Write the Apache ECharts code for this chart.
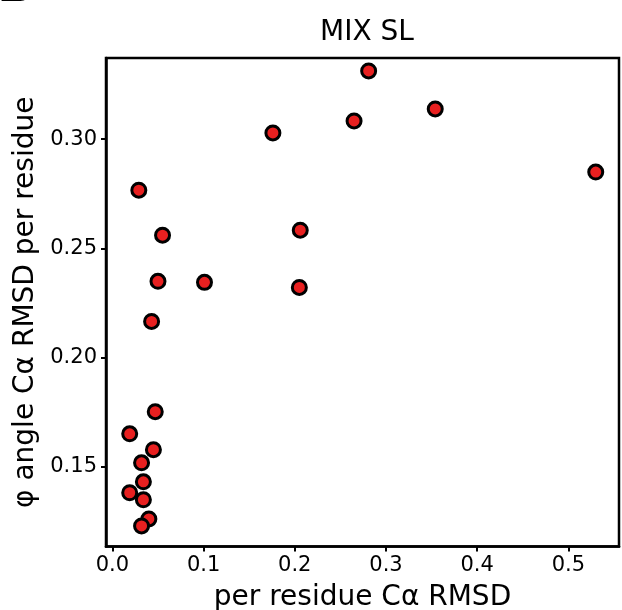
<!DOCTYPE html>
<html>
<head>
<meta charset="utf-8">
<script src="https://cdn.jsdelivr.net/npm/echarts@6/dist/echarts.min.js"></script>
<style>html,body{margin:0;padding:0;background:#fff}#c{width:622px;height:610px}</style>
</head>
<body>
<div id="c"></div>
<script>
const title = "MIX SL";
const panelLetter = "B";
const xLabel = "per residue Cα RMSD";
const yLabel = "φ angle Cα RMSD per residue";
const xValues = [0.281, 0.176, 0.265, 0.354, 0.530, 0.029, 0.055, 0.206, 0.050, 0.101, 0.205, 0.043, 0.047, 0.019, 0.045, 0.032, 0.034, 0.019, 0.034, 0.040, 0.032];
const yValues = [0.3312, 0.3028, 0.3083, 0.3138, 0.2849, 0.2766, 0.2560, 0.2583, 0.2349, 0.2344, 0.2321, 0.2165, 0.1752, 0.1651, 0.1578, 0.1518, 0.1431, 0.1381, 0.1349, 0.1261, 0.1229];
const xTicks = [0.0, 0.1, 0.2, 0.3, 0.4, 0.5];
const yTicks = [0.15, 0.20, 0.25, 0.30];

const data = xValues.map((x, i) => [x, yValues[i]]);
const font = 'DejaVu Sans';
const chart = echarts.init(document.getElementById('c'), null, {renderer: 'canvas'});
chart.setOption({
  animation: false,
  backgroundColor: '#fff',
  title: [
    {text: title, left: 362, top: 14, textAlign: 'center',
      textStyle: {fontFamily: font, fontSize: 28, fontWeight: 'normal', color: '#000'}},
    {text: panelLetter, left: -3, top: -37, padding: 0,
      textStyle: {fontFamily: font, fontSize: 50, fontWeight: 'bold', color: '#000'}}
  ],
  grid: {left: 106, right: 3, top: 58, bottom: 63.5, show: true, borderColor: '#000', borderWidth: 2.5, backgroundColor: 'transparent', outerBoundsMode: 'none', containLabel: false},
  xAxis: {
    type: 'value', min: -0.007, max: 0.5555,
    name: xLabel, nameLocation: 'middle', nameGap: 37,
    nameTextStyle: {fontFamily: font, fontSize: 28, color: '#000'},
    axisLine: {show: true, onZero: false, lineStyle: {color: '#000', width: 2.5}},
    axisLabel: {fontFamily: font, fontSize: 21, color: '#000', margin: 9,
      customValues: xTicks, formatter: v => v.toFixed(1)},
    axisTick: {show: true, length: 5, customValues: xTicks, lineStyle: {color: '#000', width: 2}},
    splitLine: {show: false}
  },
  yAxis: {
    type: 'value', min: 0.1135, max: 0.3371,
    name: yLabel, nameLocation: 'middle', nameGap: 60, nameRotate: 90,
    nameTextStyle: {fontFamily: font, fontSize: 28, color: '#000'},
    axisLine: {show: true, onZero: false, lineStyle: {color: '#000', width: 2.5}},
    axisTick: {show: true, length: 5, customValues: yTicks, lineStyle: {color: '#000', width: 2}},
    axisLabel: {fontFamily: font, fontSize: 21, color: '#000', margin: 9,
      customValues: yTicks, formatter: v => v.toFixed(2)},
    splitLine: {show: false}
  },
  series: [{
    type: 'scatter', data: data, symbol: 'circle', symbolSize: 14,
    itemStyle: {color: '#e82020', borderColor: '#000', borderWidth: 3, opacity: 1}
  }]
});
</script>
</body>
</html>
